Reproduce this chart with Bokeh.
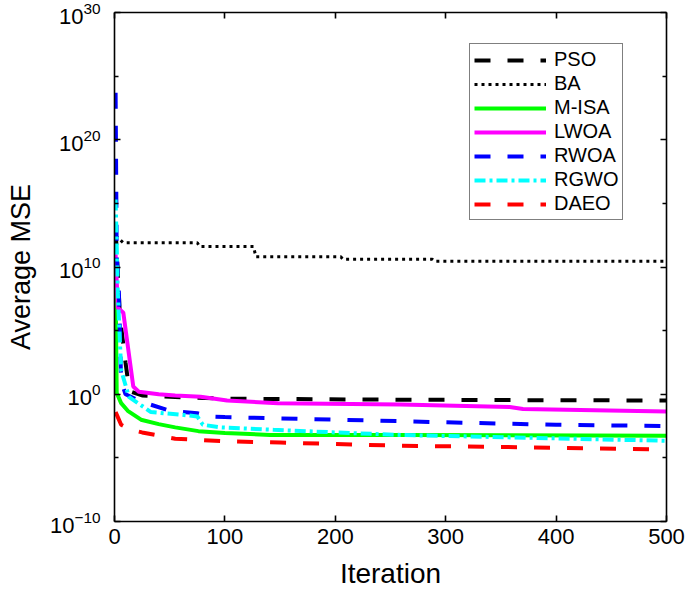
from bokeh.plotting import figure
from bokeh.models import FixedTicker, LinearAxis, LogAxis, CustomJSTickFormatter, LogTickFormatter, Range1d
from bokeh.embed import file_html
from bokeh.resources import INLINE

# ---- data (iteration, average MSE) ----
pso_it = [1, 5, 10, 12, 15, 25, 50, 100, 260, 500]
pso_mse = [1e13, 1e6, 3e2, 16, 1.6, 0.8, 0.63, 0.45, 0.37, 0.32]

ba_it = [1, 8, 75, 77, 126, 128, 205, 207, 288, 290, 500]
ba_mse = [3e12, 8e11, 8e11, 4e11, 4e11, 6.3e10, 6.3e10, 4e10, 4e10, 2.8e10, 2.8e10]

misa_it = [1, 2, 6, 12, 24, 40, 55, 76, 100, 141, 260, 500]
misa_mse = [3e8, 1.26, 0.2, 0.05, 0.01, 4.5e-3, 2.5e-3, 1.26e-3, 9e-4, 6.3e-4, 6.3e-4, 5.6e-4]

lwoa_it = [1, 3, 8, 17, 22, 40, 55, 78, 102, 148, 259, 358, 370, 500]
lwoa_mse = [1e11, 6.3e6, 2.5e6, 4, 1.6, 1.0, 0.8, 0.63, 0.32, 0.2, 0.16, 0.1, 0.07, 0.045]

rwoa_it = [1, 2, 4, 6, 10, 25, 50, 75, 85, 100, 200, 300, 400, 500]
rwoa_mse = [5e23, 1e11, 1e8, 10, 1, 0.25, 0.05, 0.032, 0.018, 0.016, 0.01, 6.3e-3, 4e-3, 3.2e-3]

rgwo_it = [1, 3, 6, 13, 33, 60, 75, 80, 96, 144, 200, 259, 500]
rgwo_mse = [2e15, 1e8, 80, 0.63, 0.04, 0.025, 0.018, 4e-3, 2.5e-3, 1.6e-3, 1e-3, 6.3e-4, 2.2e-4]

daeo_it = [1, 3, 6, 15, 25, 55, 100, 150, 260, 400, 500]
daeo_mse = [0.04, 0.016, 4e-3, 1.6e-3, 1e-3, 3.2e-4, 2e-4, 1.6e-4, 9e-5, 6.3e-5, 4.5e-5]

x_ticks = [0, 100, 200, 300, 400, 500]
y_major = [1e-10, 1e0, 1e10, 1e20, 1e30]
y_minor = [1e-5, 1e5, 1e15, 1e25]

FONT = "Liberation Sans"

p = figure(width=685, height=593, y_axis_type="log",
           x_range=Range1d(0, 500), y_range=Range1d(1e-10, 1e30),
           output_backend="svg", toolbar_location=None,
           min_border_left=114, min_border_right=19,
           min_border_top=12, min_border_bottom=72)
p.xgrid.visible = False
p.ygrid.visible = False
p.outline_line_color = None
p.background_fill_color = "white"
p.border_fill_color = "white"

def style_axis(ax):
    ax.axis_line_color = "black"
    ax.axis_line_width = 1.6
    ax.major_tick_line_color = "black"
    ax.major_tick_line_width = 1.6
    ax.minor_tick_line_color = "black"
    ax.minor_tick_line_width = 1.6
    ax.major_tick_in = 6
    ax.major_tick_out = 0
    ax.minor_tick_in = 4
    ax.minor_tick_out = 0
    ax.major_label_text_font = FONT
    ax.major_label_text_color = "black"
    ax.axis_label_text_font = FONT
    ax.axis_label_text_font_style = "normal"
    ax.axis_label_text_color = "black"

xax = p.xaxis[0]
xax.ticker = FixedTicker(ticks=x_ticks)
style_axis(xax)
xax.major_label_text_font_size = "22px"
xax.major_label_standoff = 7
xax.axis_label = "Iteration"
xax.axis_label_text_font_size = "28px"
xax.axis_label_standoff = 11

yax = p.yaxis[0]
yax.ticker = FixedTicker(ticks=y_major, minor_ticks=y_minor)
yax.formatter = LogTickFormatter()
style_axis(yax)
yax.major_label_text_font_size = "22px"
yax.major_label_standoff = 14
yax.axis_label = "Average MSE"
yax.axis_label_text_font_size = "27px"
yax.axis_label_standoff = 11

blank = CustomJSTickFormatter(code="return '';")
top = LinearAxis(ticker=FixedTicker(ticks=x_ticks), formatter=blank)
style_axis(top)
top.major_label_standoff = 0
p.add_layout(top, "above")
right = LogAxis(ticker=FixedTicker(ticks=y_major, minor_ticks=y_minor), formatter=blank)
style_axis(right)
right.major_label_standoff = 0
p.add_layout(right, "right")

W = 4
p.line(pso_it, pso_mse, color="black", line_width=W, line_dash="16 17", legend_label="PSO")
p.line(ba_it, ba_mse, color="black", line_width=3, line_dash="3 4", legend_label="BA")
p.line(misa_it, misa_mse, color="#00ff00", line_width=W, legend_label="M-ISA")
p.line(lwoa_it, lwoa_mse, color="#ff00ff", line_width=W, legend_label="LWOA")
p.line(rwoa_it, rwoa_mse, color="#0000ff", line_width=W, line_dash="16 17", legend_label="RWOA")
p.line(rgwo_it, rgwo_mse, color="#00ffff", line_width=W, line_dash="11 4 3 4", legend_label="RGWO")
p.line(daeo_it, daeo_mse, color="#ff0000", line_width=W, line_dash="16 17", legend_label="DAEO")

lg = p.legend[0]
lg.location = (355, 301)
lg.border_line_color = "black"
lg.border_line_width = 1.3
lg.background_fill_color = "white"
lg.background_fill_alpha = 1.0
lg.label_text_font = FONT
lg.label_text_font_size = "20px"
lg.label_text_color = "black"
lg.glyph_width = 72
lg.glyph_height = 22
lg.label_height = 22
lg.label_standoff = 8
lg.padding = 4
lg.spacing = 1
lg.margin = 0

open("out.html", "w", encoding="utf-8").write(file_html(p, INLINE))
